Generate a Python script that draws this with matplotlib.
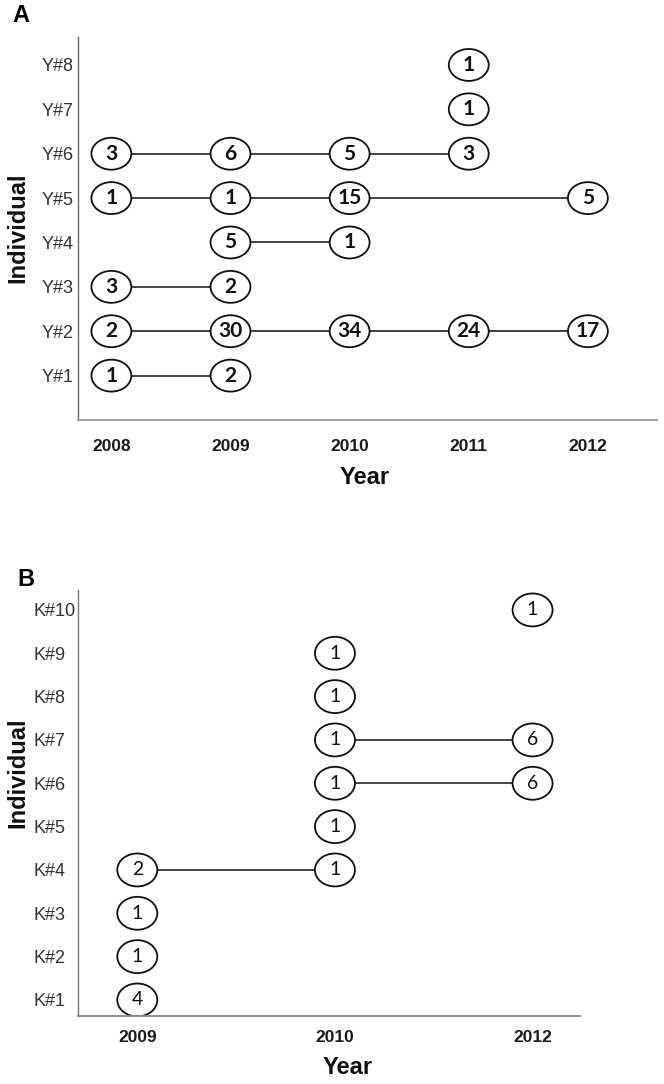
import matplotlib
matplotlib.use('Agg')
import matplotlib.pyplot as plt
from matplotlib.patches import Ellipse

# ---------------- data ----------------
years_a = ['2008', '2009', '2010', '2011', '2012']
individuals_a = ['Y#1', 'Y#2', 'Y#3', 'Y#4', 'Y#5', 'Y#6', 'Y#7', 'Y#8']
y1 = [1, 2, None, None, None]
y2 = [2, 30, 34, 24, 17]
y3 = [3, 2, None, None, None]
y4 = [None, 5, 1, None, None]
y5 = [1, 1, 15, None, 5]
y6 = [3, 6, 5, 3, None]
y7 = [None, None, None, 1, None]
y8 = [None, None, None, 1, None]
rows_a = [y1, y2, y3, y4, y5, y6, y7, y8]

years_b = ['2009', '2010', '2012']
individuals_b = ['K#1', 'K#2', 'K#3', 'K#4', 'K#5', 'K#6', 'K#7', 'K#8', 'K#9', 'K#10']
k1 = [4, None, None]
k2 = [1, None, None]
k3 = [1, None, None]
k4 = [2, 1, None]
k5 = [None, 1, None]
k6 = [None, 1, 6]
k7 = [None, 1, 6]
k8 = [None, 1, None]
k9 = [None, 1, None]
k10 = [None, None, 1]
rows_b = [k1, k2, k3, k4, k5, k6, k7, k8, k9, k10]

W, H = 664, 1084
fig = plt.figure(figsize=(W / 100, H / 100), dpi=100)


def fx(px):
    return px / W


def fy(py):
    return 1 - py / H


def draw_panel(ax, years, labels, rows, ew, eh, weight, fs, xlim, ylim,
               ytick_pad, xtick_pad, ycol, xcol):
    xs = list(range(len(years)))
    for i, row in enumerate(rows):
        yv = i + 1
        pts = [(x, v) for x, v in zip(xs, row) if v is not None]
        if len(pts) > 1:
            ax.plot([p[0] for p in pts], [yv] * len(pts), color='#222222',
                    lw=1.2, zorder=1, solid_capstyle='butt')
        for x, v in pts:
            ax.add_patch(Ellipse((x, yv), ew, eh, facecolor='white',
                                 edgecolor='#111111', lw=1.3, zorder=2))
            ax.text(x, yv, str(v), ha='center', va='center', fontsize=fs,
                    fontweight=weight, family='Lato', color='#111111',
                    zorder=3)
    ax.set_xlim(*xlim)
    ax.set_ylim(*ylim)
    ax.set_xticks(xs)
    ax.set_xticklabels(years, fontsize=12.5, fontweight='bold',
                       family='Liberation Sans', color='#1a1a1a')
    ax.set_yticks(range(1, len(labels) + 1))
    ax.set_yticklabels(labels, fontsize=13, family='Liberation Sans',
                       color='#333333')
    for lab in ax.get_yticklabels():
        lab.set_horizontalalignment('left')
    ax.tick_params(axis='y', length=0, pad=ytick_pad)
    ax.tick_params(axis='x', length=0, pad=xtick_pad)
    for s in ['top', 'right']:
        ax.spines[s].set_visible(False)
    ax.spines['left'].set_color(ycol)
    ax.spines['bottom'].set_color(xcol)
    ax.spines['left'].set_linewidth(1.0)
    ax.spines['bottom'].set_linewidth(1.3)
    ax.set_facecolor('none')


# Panel A
axA = fig.add_axes([fx(78), fy(420), fx(657) - fx(78), fy(37) - fy(420)])
draw_panel(axA, years_a, individuals_a, rows_a, ew=0.335, eh=0.72,
           weight='bold', fs=15, xlim=(-0.28, 4.58), ylim=(0.0, 8.63),
           ytick_pad=26, xtick_pad=14, ycol='#666666', xcol='#9a9a9a')

# Panel B
axB = fig.add_axes([fx(78), fy(1016), fx(580) - fx(78), fy(590) - fy(1016)])
draw_panel(axB, years_b, individuals_b, rows_b, ew=0.2025, eh=0.76,
           weight='normal', fs=14, xlim=(-0.30, 2.24), ylim=(0.63, 10.46),
           ytick_pad=32, xtick_pad=10, ycol='#777777', xcol='#888888')

lab_kw = dict(fontsize=17, fontweight='bold', family='Liberation Sans',
              color='#111111', ha='center', va='center')
fig.text(fx(365), fy(478), 'Year', **lab_kw)
fig.text(fx(18), fy(228), 'Individual', rotation=90, **lab_kw)
fig.text(fx(348), fy(1068), 'Year', **lab_kw)
fig.text(fx(18), fy(773), 'Individual', rotation=90, **lab_kw)

fig.text(fx(21), fy(16), 'A', fontsize=17, fontweight='bold',
         family='Liberation Sans', ha='center', va='center')
fig.text(fx(26), fy(580), 'B', fontsize=17, fontweight='bold',
         family='Liberation Sans', ha='center', va='center')

fig.savefig('out.png', dpi=100)
